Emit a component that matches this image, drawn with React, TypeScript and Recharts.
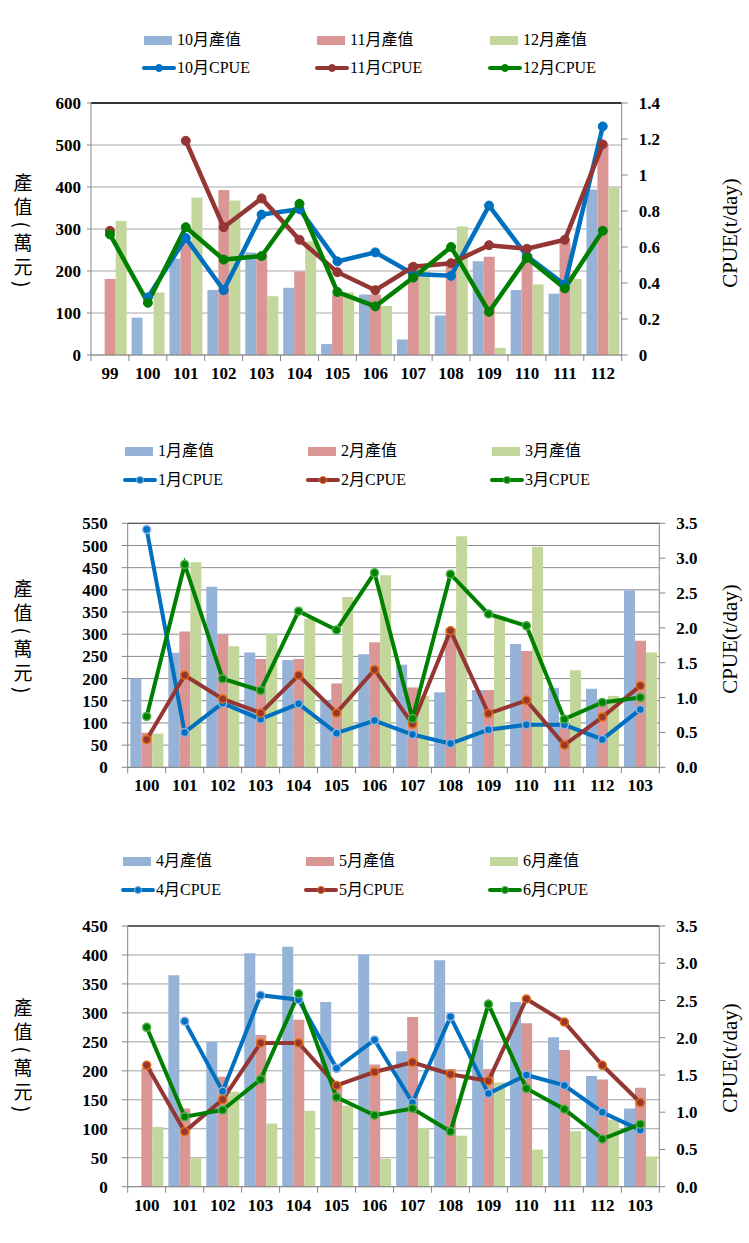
import React from 'react';
import {
    ComposedChart,
    Bar,
    Line,
    XAxis,
    YAxis,
    CartesianGrid,
    ReferenceLine
} from 'recharts';

// ---- data ----
const yearsA = ['99', '100', '101', '102', '103', '104', '105', '106', '107', '108', '109', '110', '111', '112'];
const yearsB = ['100', '101', '102', '103', '104', '105', '106', '107', '108', '109', '110', '111', '112', '103'];

const octValue = [null, 89, 229, 155, 244, 160, 26, 144, 37, 94, 223, 155, 146, 394];
const novValue = [181, null, 272, 393, 242, 199, 144, 144, 217, 220, 234, 240, 268, 500];
const decValue = [319, 149, 375, 368, 140, 270, 149, 117, 200, 306, 17, 168, 181, 399];
const octCpue = [null, 0.32, 0.65, 0.36, 0.78, 0.81, 0.52, 0.57, 0.45, 0.44, 0.83, 0.55, 0.39, 1.27];
const novCpue = [0.69, null, 1.19, 0.71, 0.87, 0.64, 0.46, 0.36, 0.49, 0.51, 0.61, 0.59, 0.64, 1.17];
const decCpue = [0.67, 0.29, 0.71, 0.53, 0.55, 0.84, 0.35, 0.27, 0.43, 0.6, 0.24, 0.54, 0.37, 0.69];

const janValue = [200, 258, 407, 259, 242, 152, 255, 231, 169, 174, 278, 179, 177, 399];
const febValue = [78, 306, 299, 244, 244, 189, 282, 180, 313, 174, 262, 100, 153, 285];
const marValue = [76, 462, 273, 301, 335, 384, 433, 161, 521, 340, 497, 219, 161, 259];
const janCpue = [3.41, 0.5, 0.92, 0.69, 0.91, 0.49, 0.67, 0.47, 0.34, 0.54, 0.61, 0.61, 0.4, 0.83];
const febCpue = [0.4, 1.32, 0.98, 0.78, 1.32, 0.78, 1.4, 0.62, 1.96, 0.77, 0.96, 0.32, 0.72, 1.17];
const marCpue = [0.73, 2.91, 1.27, 1.1, 2.24, 1.97, 2.79, 0.7, 2.77, 2.2, 2.03, 0.69, 0.93, 1.0];

const aprValue = [null, 365, 250, 403, 414, 319, 401, 234, 391, 254, 319, 258, 191, 135];
const mayValue = [205, 135, 190, 262, 288, 176, 211, 293, 203, 203, 282, 236, 185, 171];
const junValue = [103, 49, 164, 109, 131, 140, 48, 101, 88, 180, 64, 96, 116, 52];
const aprCpue = [null, 2.22, 1.28, 2.57, 2.51, 1.59, 1.97, 1.13, 2.28, 1.25, 1.5, 1.36, 1.0, 0.76];
const mayCpue = [1.63, 0.74, 1.17, 1.93, 1.93, 1.36, 1.54, 1.67, 1.51, 1.42, 2.52, 2.21, 1.63, 1.13];
const junCpue = [2.14, 0.94, 1.03, 1.44, 2.59, 1.2, 0.96, 1.05, 0.74, 2.45, 1.32, 1.04, 0.64, 0.84];

const ticksValue600 = [0, 100, 200, 300, 400, 500, 600];
const ticksValue550 = [0, 50, 100, 150, 200, 250, 300, 350, 400, 450, 500, 550];
const ticksValue450 = [0, 50, 100, 150, 200, 250, 300, 350, 400, 450];
const ticksCpue14 = [0, 0.2, 0.4, 0.6, 0.8, 1, 1.2, 1.4];
const ticksCpue35 = [0, 0.5, 1, 1.5, 2, 2.5, 3, 3.5];

const SERIF = "'Liberation Serif', 'Times New Roman', 'Noto Sans CJK TC', serif";
const BAR_COLORS = ['#95B3D7', '#D99694', '#C3D69B'];
const LINE_COLORS = ['#0070C0', '#943634', '#008000'];
const DOT_RINGS = ['#8DB4E2', '#E46C0A', '#4FB04F'];
const AXIS = '#868686';
const PAGE_W = 749;

interface TickProps {
    x?: number;
    y?: number;
    index?: number;
    payload?: { value: string };
    band: number;
    count: number;
}

const CategoryTick: React.FC<TickProps> = ({ x = 0, y = 0, index = 0, payload, band, count }) => (
    <g>
        <line x1={x - band / 2} y1={y} x2={x - band / 2} y2={y + 6} stroke={AXIS} />
        {index === count - 1 && <line x1={x + band / 2} y1={y} x2={x + band / 2} y2={y + 6} stroke={AXIS} />}
        <text x={x} y={y + 24} textAnchor="middle" fontSize={17} fontWeight="bold" fontFamily={SERIF} fill="#000">
            {payload?.value}
        </text>
    </g>
);

interface PanelProps {
    top: number;
    height: number;
    plotTop: number;
    plotBottom: number;
    plotLeft: number;
    plotRight: number;
    categories: string[];
    values: (number | null)[][];
    cpue: (number | null)[][];
    valueNames: string[];
    cpueNames: string[];
    leftTicks: number[];
    rightTicks: number[];
    rightFixed: boolean;
    legendX: number[];
    legendY: number[];
    titleY: number;
    leftTickSize: number;
    leftTickMargin: number;
    heavy: boolean;
    topColor: string;
    gridColor: string;
}

const Panel: React.FC<PanelProps> = (p) => {
    const rows = p.categories.map((name, i) => ({
        name,
        v0: p.values[0][i],
        v1: p.values[1][i],
        v2: p.values[2][i],
        c0: p.cpue[0][i],
        c1: p.cpue[1][i],
        c2: p.cpue[2][i]
    }));
    const band = (p.plotRight - p.plotLeft) / p.categories.length;
    const leftMax = p.leftTicks[p.leftTicks.length - 1];
    const rightMax = p.rightTicks[p.rightTicks.length - 1];

    return (
        <>
            {/* legend */}
            {p.valueNames.map((n, i) => (
                <React.Fragment key={n}>
                    <div style={{ position: 'absolute', left: p.legendX[i], top: p.legendY[0] - 4.5, width: 28, height: 9, background: BAR_COLORS[i] }} />
                    <div style={{ position: 'absolute', left: p.legendX[i] + 33, top: p.legendY[0] - 10, fontFamily: SERIF, fontSize: 16, lineHeight: '20px' }}>{n}</div>
                </React.Fragment>
            ))}
            {p.cpueNames.map((n, i) => (
                <React.Fragment key={n}>
                    <svg style={{ position: 'absolute', left: p.legendX[i] - 2, top: p.legendY[1] - 6 }} width={34} height={12}>
                        <line x1={2} y1={6} x2={32} y2={6} stroke={LINE_COLORS[i]} strokeWidth={4} strokeLinecap="round" />
                        <circle cx={17} cy={6} r={3.5} fill={LINE_COLORS[i]} stroke={p.heavy ? LINE_COLORS[i] : DOT_RINGS[i]} />
                    </svg>
                    <div style={{ position: 'absolute', left: p.legendX[i] + 33, top: p.legendY[1] - 10, fontFamily: SERIF, fontSize: 16, lineHeight: '20px' }}>{n}</div>
                </React.Fragment>
            ))}
            {/* axis titles */}
            <div style={{ position: 'absolute', left: 23, top: p.titleY, transform: 'translate(-50%, -50%)', writingMode: 'vertical-rl', fontFamily: "'Noto Sans CJK TC', serif", fontSize: 19, letterSpacing: 5, lineHeight: 1 }}>
                產值(萬元)
            </div>
            <div style={{ position: 'absolute', left: 730, top: p.titleY, transform: 'translate(-50%, -50%) rotate(-90deg)', fontFamily: SERIF, fontSize: 21, whiteSpace: 'nowrap' }}>
                CPUE(t/day)
            </div>
            <div style={{ position: 'absolute', left: 0, top: p.top }}>
                <ComposedChart
                    width={PAGE_W}
                    height={p.height}
                    data={rows}
                    margin={{ top: p.plotTop - p.top, right: 0, bottom: 0, left: 0 }}
                    barGap={0}
                    barCategoryGap="7%"
                >
                    <CartesianGrid vertical={false} stroke={p.gridColor} />
                    <XAxis
                        dataKey="name"
                        height={p.top + p.height - p.plotBottom}
                        interval={0}
                        tickSize={0}
                        tickMargin={0}
                        tickLine={false}
                        stroke={AXIS}
                        tick={<CategoryTick band={band} count={p.categories.length} />}
                    />
                    <YAxis
                        width={p.plotLeft}
                        domain={[0, leftMax]}
                        ticks={p.leftTicks}
                        interval={0}
                        stroke={AXIS}
                        tickSize={p.leftTickSize}
                        tickMargin={p.leftTickMargin}
                        tick={{ fill: '#000', fontSize: 17, fontWeight: 'bold', fontFamily: SERIF }}
                    />
                    <YAxis
                        yAxisId="r"
                        orientation="right"
                        width={PAGE_W - p.plotRight}
                        domain={[0, rightMax]}
                        ticks={p.rightTicks}
                        interval={0}
                        stroke={AXIS}
                        tickSize={6}
                        tickMargin={11}
                        tickFormatter={(v: number) => (p.rightFixed ? v.toFixed(1) : String(v))}
                        tick={{ fill: '#000', fontSize: 17, fontWeight: 'bold', fontFamily: SERIF }}
                    />
                    <ReferenceLine y={leftMax} stroke={p.topColor} strokeWidth={1.3} />
                    {['v0', 'v1', 'v2'].map((k, i) => (
                        <Bar key={k} dataKey={k} fill={BAR_COLORS[i]} isAnimationActive={false} />
                    ))}
                    {['c0', 'c1', 'c2'].map((k, i) => (
                        <Line
                            key={k}
                            yAxisId="r"
                            type="linear"
                            dataKey={k}
                            stroke={LINE_COLORS[i]}
                            strokeWidth={p.heavy ? 4.5 : 4}
                            dot={{
                                r: p.heavy ? 4.5 : 4,
                                fill: LINE_COLORS[i],
                                stroke: p.heavy ? LINE_COLORS[i] : DOT_RINGS[i],
                                strokeWidth: p.heavy ? 1 : 1.5
                            }}
                            activeDot={false}
                            isAnimationActive={false}
                        />
                    ))}
                </ComposedChart>
            </div>
        </>
    );
};

const App: React.FC = () => (
    <div style={{ position: 'absolute', left: 0, top: 0, width: PAGE_W, height: 1243, background: '#fff' }}>
        <Panel
            top={0}
            height={400}
            plotTop={103}
            plotBottom={355}
            plotLeft={91}
            plotRight={621.7}
            categories={yearsA}
            values={[octValue, novValue, decValue]}
            cpue={[octCpue, novCpue, decCpue]}
            valueNames={['10月產值', '11月產值', '12月產值']}
            cpueNames={['10月CPUE', '11月CPUE', '12月CPUE']}
            leftTicks={ticksValue600}
            rightTicks={ticksCpue14}
            rightFixed={false}
            legendX={[144, 317, 490]}
            legendY={[40, 68]}
            titleY={233}
            leftTickSize={4}
            leftTickMargin={6}
            heavy={true}
            topColor="#000"
            gridColor="#A6A6A6"
        />
        <Panel
            top={420}
            height={390}
            plotTop={523.3}
            plotBottom={767.3}
            plotLeft={127.7}
            plotRight={659.3}
            categories={yearsB}
            values={[janValue, febValue, marValue]}
            cpue={[janCpue, febCpue, marCpue]}
            valueNames={['1月產值', '2月產值', '3月產值']}
            cpueNames={['1月CPUE', '2月CPUE', '3月CPUE']}
            leftTicks={ticksValue550}
            rightTicks={ticksCpue35}
            rightFixed={true}
            legendX={[125, 308, 492]}
            legendY={[451, 480]}
            titleY={639}
            leftTickSize={6}
            leftTickMargin={14}
            heavy={false}
            topColor="#595959"
            gridColor="#8C8C8C"
        />
        <Panel
            top={830}
            height={400}
            plotTop={926}
            plotBottom={1186.7}
            plotLeft={127.7}
            plotRight={659.3}
            categories={yearsB}
            values={[aprValue, mayValue, junValue]}
            cpue={[aprCpue, mayCpue, junCpue]}
            valueNames={['4月產值', '5月產值', '6月產值']}
            cpueNames={['4月CPUE', '5月CPUE', '6月CPUE']}
            leftTicks={ticksValue450}
            rightTicks={ticksCpue35}
            rightFixed={true}
            legendX={[123, 306, 490]}
            legendY={[861, 890]}
            titleY={1058}
            leftTickSize={6}
            leftTickMargin={14}
            heavy={false}
            topColor="#404040"
            gridColor="#A0A0A0"
        />
    </div>
);

export default App;
